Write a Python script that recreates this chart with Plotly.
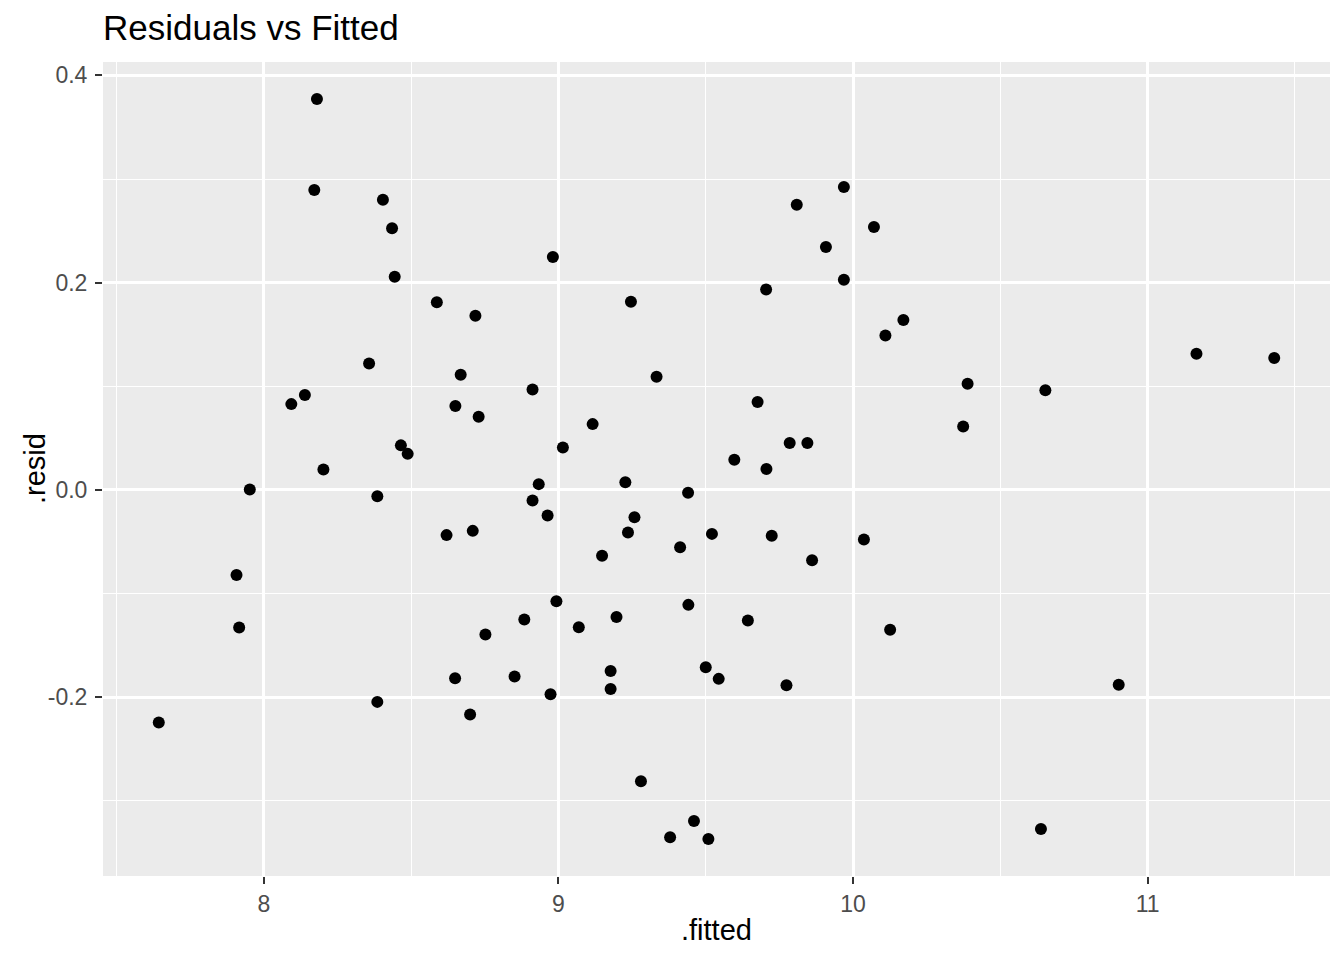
import plotly.graph_objects as go

fitted = [7.643, 7.907, 7.916, 7.952, 8.093, 8.139, 8.180, 8.171, 8.202, 8.357,
          8.385, 8.385, 8.404, 8.435, 8.444, 8.465, 8.488, 8.587, 8.620, 8.649,
          8.650, 8.668, 8.700, 8.709, 8.718, 8.729, 8.752, 8.851, 8.884, 8.912,
          8.912, 8.933, 8.963, 8.973, 8.981, 8.993, 9.015, 9.069, 9.116, 9.148,
          9.177, 9.177, 9.197, 9.227, 9.236, 9.246, 9.258, 9.280, 9.333, 9.379,
          9.413, 9.441, 9.440, 9.460, 9.500, 9.509, 9.521, 9.544, 9.597, 9.643,
          9.676, 9.705, 9.706, 9.724, 9.774, 9.785, 9.809, 9.845, 9.861, 9.908,
          9.969, 9.969, 10.037, 10.071, 10.110, 10.126, 10.171, 10.374, 10.389, 10.638,
          10.653, 10.902, 11.166, 11.430]

resid = [-0.2244, -0.0820, -0.1327, 0.0005, 0.0828, 0.0915, 0.3772, 0.2894, 0.0198, 0.1221,
         -0.0060, -0.2045, 0.2800, 0.2524, 0.2057, 0.0430, 0.0348, 0.1810, -0.0436, -0.1817,
         0.0809, 0.1111, -0.2167, -0.0395, 0.1681, 0.0706, -0.1395, -0.1800, -0.1250, 0.0970,
         -0.0101, 0.0056, -0.0246, -0.1971, 0.2247, -0.1073, 0.0410, -0.1324, 0.0635, -0.0636,
         -0.1746, -0.1920, -0.1225, 0.0075, -0.0410, 0.1816, -0.0263, -0.2811, 0.1092, -0.3351,
         -0.0552, -0.1109, -0.0028, -0.3194, -0.1710, -0.3368, -0.0424, -0.1823, 0.0291, -0.1260,
         0.0848, 0.1935, 0.0201, -0.0443, -0.1884, 0.0452, 0.2752, 0.0452, -0.0678, 0.2344,
         0.2923, 0.2028, -0.0478, 0.2537, 0.1491, -0.1350, 0.1639, 0.0613, 0.1024, -0.3271,
         0.0962, -0.1879, 0.1314, 0.1273]

x_ticks = [8, 9, 10, 11]
x_tick_labels = ["8", "9", "10", "11"]
x_minor = [7.5, 8.5, 9.5, 10.5, 11.5]
y_ticks = [-0.2, 0.0, 0.2, 0.4]
y_tick_labels = ["-0.2", "0.0", "0.2", "0.4"]
y_minor = [-0.3, -0.1, 0.1, 0.3]

FONT = "Liberation Sans, Arial, Helvetica, sans-serif"

fig = go.Figure(go.Scatter(
    x=fitted, y=resid, mode="markers",
    marker=dict(color="black", size=12, line=dict(width=0)),
    showlegend=False,
))

xr = (min(fitted), max(fitted))
yr = (min(resid), max(resid))
xpad = (xr[1] - xr[0]) * 0.05
ypad = (yr[1] - yr[0]) * 0.05

axis_common = dict(
    showline=False, zeroline=False, automargin=False,
    showgrid=True, gridcolor="white", gridwidth=2.6,
    ticks="outside", ticklen=7, tickwidth=2, tickcolor="#333333",
    tickfont=dict(family=FONT, size=23, color="#4D4D4D"),
    tickmode="array",
)

fig.update_xaxes(
    **axis_common,
    range=[xr[0] - xpad, xr[1] + xpad],
    tickvals=x_ticks, ticktext=x_tick_labels,
    minor=dict(tickvals=x_minor, showgrid=True, gridcolor="white", gridwidth=1.3, ticks=""),
)
fig.update_yaxes(
    **axis_common,
    range=[yr[0] - ypad, yr[1] + ypad],
    tickvals=y_ticks, ticktext=y_tick_labels,
    ticklabelstandoff=3,
    minor=dict(tickvals=y_minor, showgrid=True, gridcolor="white", gridwidth=1.3, ticks=""),
)

W, H = 1336, 952
fig.update_layout(
    width=W, height=H,
    margin=dict(l=95, r=14, t=54, b=84),
    plot_bgcolor="#EBEBEB", paper_bgcolor="white",
    title=dict(text="Residuals vs Fitted", font=dict(family=FONT, size=35, color="black"),
               x=95 / W, xanchor="left", xref="container",
               y=1 - 20 / H, yanchor="middle", yref="container"),
    annotations=[
        dict(text=".fitted", xref="paper", yref="paper", x=0.5, y=-0.066,
             xanchor="center", yanchor="middle", showarrow=False,
             font=dict(family=FONT, size=29, color="black")),
        dict(text=".resid", xref="paper", yref="paper", x=-0.0554, y=0.5,
             xanchor="center", yanchor="middle", showarrow=False, textangle=-90,
             font=dict(family=FONT, size=29, color="black")),
    ],
)

fig.write_html("out.html")
